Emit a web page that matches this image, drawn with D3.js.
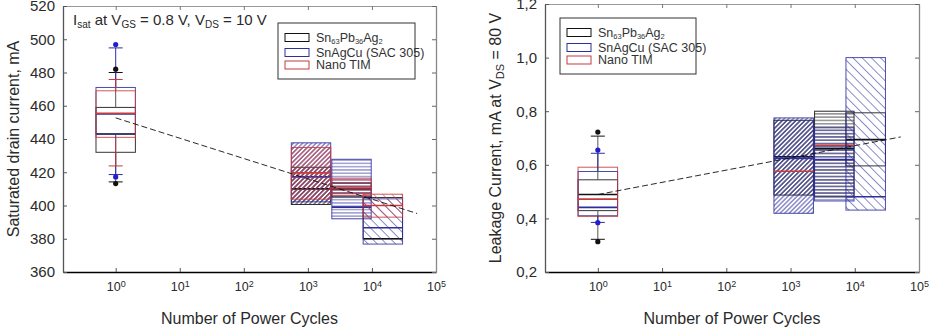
<!DOCTYPE html>
<html>
<head>
<meta charset="utf-8">
<script src="https://cdn.jsdelivr.net/npm/d3@7"></script>
<style>
  body { margin: 0; background: #fff; }
  svg { display: block; font-family: "Liberation Sans", Arial, sans-serif; }
  .tick-y text { font-size: 15px; fill: #2a2a2a; }
  .tick-x text { font-size: 12.5px; fill: #2a2a2a; font-family: "Liberation Sans Narrow", "Liberation Sans", Arial, sans-serif; }
  .axis-label { font-size: 16px; fill: #2a2a2a; }
  .legend-text { font-size: 12.5px; fill: #333; font-family: "Liberation Sans Narrow", "Liberation Sans", Arial, sans-serif; }
</style>
</head>
<body>
<div id="chart"></div>
<script>
// ---------------------------------------------------------------------------
// DATA
// ---------------------------------------------------------------------------
const materials = ["Sn63Pb36Ag2", "SnAgCu (SAC 305)", "Nano TIM"];
const materialColors = ["#111111", "#2e2e9e", "#c83a3c"];
const cycles = [1, 1120, 4800, 14800];
const decades = [1, 10, 100, 1000, 10000, 100000];

// left panel: saturated drain current, mA  -> [q1, median, q3] per cycle group
const isatTicks = [360, 380, 400, 420, 440, 460, 480, 500, 520];
const isatSn   = [[432, 443, 459], [400.6, 410, 423], [405, 410, 413.6], [380, 380, 404.8]];
const isatSac  = [[443, 455, 471], [402.2, 417.2, 437.7], [392, 399, 427.8], [376.8, 386.6, 404]];
const isatNano = [[441, 455.5, 469], [403.8, 419.6, 434.9], [406.2, 410.5, 416.4], [393, 400, 406.8]];
const isatWhiskers = [[414.2, 480], [418.6, 494.8], [423.8, 475.8]];
const isatOutliers = [[413.2, 482], [417.2, 496.8], []];
const isatTrend = [[1, 452.7], [50700, 395.2]];

// right panel: leakage current, mA at VDS = 80 V
const leakTicks = [0.2, 0.4, 0.6, 0.8, 1.0, 1.2];
const leakSn   = [[0.429, 0.489, 0.544], [0.487, 0.63, 0.766], [0.48, 0.66, 0.80], [0.596, 0.694, 0.794]];
const leakSac  = [[0.41, 0.441, 0.575], [0.419, 0.624, 0.775], [0.465, 0.62, 0.738], [0.431, 0.481, 1.0]];
const leakNano = [[0.4075, 0.472, 0.591], [0.576, 0.576, 0.576], [0.673, 0.673, 0.673], null];
const leakWhiskers = [[0.322, 0.707], [0.385, 0.643], null];
const leakOutliers = [[0.313, 0.722], [0.384, 0.655], []];
const leakTrend = [[1, 0.489], [52000, 0.704]];

// ---------------------------------------------------------------------------
// SVG + hatch patterns
// ---------------------------------------------------------------------------
const svg = d3.select('#chart').append('svg')
    .attr('width', 935)
    .attr('height', 334);

const defs = svg.append('defs');
// group 1: "///" dense, group 2: horizontal, group 3: "\\\" sparse
const hatchKinds = [null,
    { angle: 45, step: 3.2, width: 1, opacity: 0.85 },
    { angle: 90, step: 3.3, width: 0.9, opacity: 0.8 },
    { angle: -45, step: 6.5, width: 0.9, opacity: 0.6 }];
// black boxes in the last group are not hatched
const hatchVisible = [[false, true, true, false], [false, true, true, true], [false, true, true, true]];

hatchKinds.forEach((h, gi) => {
    if (!h) return;
    materialColors.forEach((c, m) => {
        const p = defs.append('pattern')
            .attr('id', `hatch-${gi}-${m}`)
            .attr('patternUnits', 'userSpaceOnUse')
            .attr('width', h.step)
            .attr('height', h.step)
            .attr('patternTransform', `rotate(${h.angle})`);
        p.append('line')
            .attr('x1', h.step / 2).attr('y1', 0)
            .attr('x2', h.step / 2).attr('y2', h.step)
            .attr('stroke', c)
            .attr('stroke-opacity', h.opacity)
            .attr('stroke-width', h.width);
    });
});

const boxSpread = 2.03;

function drawPanel(cfg) {
    const g = svg.append('g');

    const x = d3.scaleLog().domain([0.1505, 1e5]).range([cfg.left, cfg.right]);
    const y = d3.scaleLinear().domain(cfg.yDomain).range([cfg.bottom, cfg.top]);

    // boxes
    cycles.forEach((c, gi) => {
        cfg.boxes.forEach((series, m) => {
            const b = series[gi];
            if (!b) return;
            const xa = x(c / boxSpread), xb = x(c * boxSpread);
            g.append('rect')
                .attr('x', xa)
                .attr('y', y(b[2]))
                .attr('width', xb - xa)
                .attr('height', y(b[0]) - y(b[2]))
                .attr('fill', hatchVisible[m][gi] ? `url(#hatch-${gi}-${m})` : 'none')
                .attr('stroke', materialColors[m])
                .attr('stroke-opacity', 0.85)
                .attr('stroke-width', 1);
            g.append('line')
                .attr('x1', xa).attr('x2', xb)
                .attr('y1', y(b[1])).attr('y2', y(b[1]))
                .attr('stroke', materialColors[m])
                .attr('stroke-width', 1.6);
        });
    });

    // whiskers + outlying points (1 cycle only)
    const cx = x(cycles[0]);
    cfg.whiskers.forEach((w, m) => {
        if (!w) return;
        const b = cfg.boxes[m][0];
        const col = m === 0 ? '#555' : materialColors[m];
        [[b[2], w[1]], [b[0], w[0]]].forEach(([from, to]) => {
            g.append('line')
                .attr('x1', cx).attr('x2', cx)
                .attr('y1', y(from)).attr('y2', y(to))
                .attr('stroke', col).attr('stroke-width', 1);
            g.append('line')
                .attr('x1', cx - 7).attr('x2', cx + 7)
                .attr('y1', y(to)).attr('y2', y(to))
                .attr('stroke', materialColors[m]).attr('stroke-width', 1);
        });
    });
    cfg.outliers.forEach((pts, m) => {
        pts.forEach(v => {
            g.append('circle')
                .attr('cx', cx).attr('cy', y(v)).attr('r', 2.6)
                .attr('fill', m === 1 ? '#1f1fcf' : materialColors[m]);
        });
    });

    // trend line
    g.append('path')
        .datum(cfg.trend)
        .attr('fill', 'none')
        .attr('stroke', '#111')
        .attr('stroke-width', 0.9)
        .attr('stroke-dasharray', '6,3')
        .attr('d', d3.line().x(d => x(d[0])).y(d => y(d[1])));

    // axes
    const bottom = g.append('g')
        .attr('class', 'tick-x')
        .attr('transform', `translate(0,${cfg.bottom})`)
        .call(d3.axisBottom(x).tickValues(decades).tickSize(-4).tickSizeOuter(0).tickPadding(10));
    bottom.attr('font-size', null).attr('font-family', null);
    bottom.select('.domain').attr('stroke', '#000').attr('stroke-width', 1.3);
    bottom.selectAll('.tick line').attr('stroke', '#555');
    bottom.selectAll('.tick text').each(function (d) {
        const t = d3.select(this);
        t.text('10');
        t.append('tspan')
            .attr('dy', '-0.45em')
            .attr('font-size', '9px')
            .text(Math.round(Math.log10(d)));
    });

    const top = g.append('g')
        .attr('transform', `translate(0,${cfg.top})`)
        .call(d3.axisTop(x).tickValues(decades).tickSize(-4).tickSizeOuter(0).tickFormat(''));
    top.select('.domain').attr('stroke', '#999');
    top.selectAll('.tick line').attr('stroke', '#777');

    const left = g.append('g')
        .attr('class', 'tick-y')
        .attr('transform', `translate(${cfg.left},0)`)
        .call(d3.axisLeft(y).tickValues(cfg.ticks).tickSize(-4).tickSizeOuter(0).tickPadding(8).tickFormat(cfg.fmt));
    left.attr('font-size', null).attr('font-family', null);
    left.select('.domain').attr('stroke', '#555').attr('stroke-width', 1.3);
    left.selectAll('.tick line').attr('stroke', '#555');

    const right = g.append('g')
        .attr('transform', `translate(${cfg.right},0)`)
        .call(d3.axisRight(y).tickValues(cfg.ticks).tickSize(-4).tickSizeOuter(0).tickFormat(''));
    right.select('.domain').attr('stroke', '#888').attr('stroke-width', 1.3);
    right.selectAll('.tick line').attr('stroke', '#666');

    // axis labels
    g.append('text')
        .attr('class', 'axis-label')
        .attr('x', (cfg.left + cfg.right) / 2)
        .attr('y', 324)
        .attr('text-anchor', 'middle')
        .text('Number of Power Cycles');

    const yl = g.append('text')
        .attr('class', 'axis-label')
        .attr('transform', `translate(${cfg.yLabelX},${(cfg.top + cfg.bottom) / 2}) rotate(-90)`)
        .attr('text-anchor', 'middle');
    cfg.yLabel(yl);

    // legend
    const lg = g.append('g').attr('transform', `translate(${cfg.legend[0]},${cfg.legend[1]})`);
    lg.append('rect')
        .attr('width', cfg.legend[2]).attr('height', cfg.legend[3])
        .attr('fill', '#fff').attr('stroke', '#333').attr('stroke-width', 1);
    const rowY = [14.5, 29.5, 42];
    materials.forEach((name, m) => {
        lg.append('rect')
            .attr('x', 7).attr('y', rowY[m] - 4)
            .attr('width', 24).attr('height', 8)
            .attr('fill', 'none')
            .attr('stroke', materialColors[m]);
        const t = lg.append('text')
            .attr('class', 'legend-text')
            .attr('x', 38).attr('y', rowY[m] + 4);
        if (m === 0) {
            t.append('tspan').text('Sn');
            t.append('tspan').attr('font-size', '7.5px').attr('dy', 2).text('63');
            t.append('tspan').attr('dy', -2).text('Pb');
            t.append('tspan').attr('font-size', '7.5px').attr('dy', 2).text('36');
            t.append('tspan').attr('dy', -2).text('Ag');
            t.append('tspan').attr('font-size', '7.5px').attr('dy', 2).text('2');
        } else {
            t.text(name);
        }
    });

    return g;
}

const leftPanel = drawPanel({
    left: 63, right: 436, top: 6, bottom: 272,
    yDomain: [360, 520], ticks: isatTicks, fmt: d3.format('d'),
    boxes: [isatSn, isatSac, isatNano],
    whiskers: isatWhiskers, outliers: isatOutliers, trend: isatTrend,
    legend: [278, 23, 137, 56],
    yLabelX: 19,
    yLabel: t => t.text('Saturated drain current, mA')
});

// condition text
const cond = leftPanel.append('text')
    .attr('x', 73).attr('y', 25)
    .attr('font-size', '15px')
    .attr('fill', '#2a2a2a');
cond.append('tspan').text('I');
cond.append('tspan').attr('font-size', '10px').attr('dy', 3).text('sat');
cond.append('tspan').attr('dy', -3).text(' at V');
cond.append('tspan').attr('font-size', '10px').attr('dy', 3).text('GS');
cond.append('tspan').attr('dy', -3).text(' = 0.8 V, V');
cond.append('tspan').attr('font-size', '10px').attr('dy', 3).text('DS');
cond.append('tspan').attr('dy', -3).text(' = 10 V');

drawPanel({
    left: 545, right: 919, top: 4, bottom: 272,
    yDomain: [0.2, 1.2], ticks: leakTicks, fmt: d => d3.format('.1f')(d).replace('.', ','),
    boxes: [leakSn, leakSac, leakNano],
    whiskers: leakWhiskers, outliers: leakOutliers, trend: leakTrend,
    legend: [560, 18, 136, 56],
    yLabelX: 501,
    yLabel: t => {
        t.append('tspan').text('Leakage Current, mA at V');
        t.append('tspan').attr('font-size', '11px').attr('dy', 3).text('DS');
        t.append('tspan').attr('dy', -3).text(' = 80 V');
    }
});
</script>
</body>
</html>
